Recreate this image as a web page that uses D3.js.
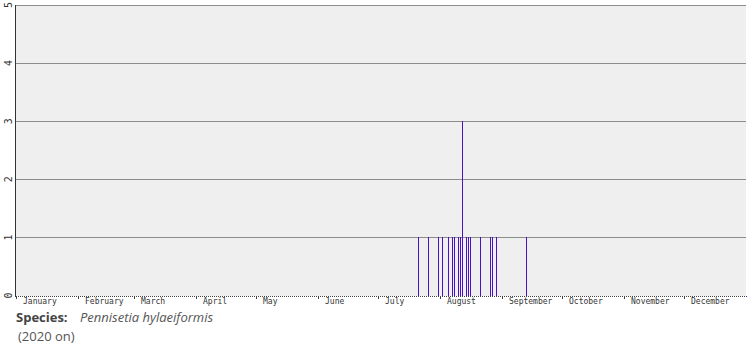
<!DOCTYPE html>
<html>
<head>
<meta charset="utf-8">
<script src="https://cdn.jsdelivr.net/npm/d3@7"></script>
<style>
  html, body { margin: 0; padding: 0; background: #ffffff; }
  svg { display: block; }
</style>
</head>
<body>
<svg id="chart" width="755" height="350"></svg>
<script>
// ---- data ----
const monthNames = ["January","February","March","April","May","June","July","August","September","October","November","December"];
const monthDays = [31,28,31,30,31,30,31,31,30,31,30,31];
const yTicks = [0,1,2,3,4,5];
// observation dates (month, day) and counts
const obsDates = ["07-21","07-26","07-31","08-02","08-05","08-07","08-08","08-10","08-11","08-12","08-14","08-15","08-16","08-21","08-26","08-27","08-29","09-13"];
const obsCounts = [1,1,1,1,1,1,1,1,1,3,1,1,1,1,1,1,1,1];
const speciesName = "Pennisetia hylaeiformis";
const subtitle = "(2020 on)";

(function () {
// ---- layout ----
const svg = d3.select("#chart");
const pLeft = 16, pRight = 746, pTop = 5, pBottom = 295.5;

const x = d3.scaleLinear().domain([0, 365]).range([pLeft, pRight]);
const y = d3.scaleLinear().domain([0, 5]).range([pBottom, pTop]);

const monthStarts = d3.cumsum([0, ...monthDays.slice(0, 11)]);
function doy(s) {
  const [m, d] = s.split("-").map(Number);
  return monthStarts[m - 1] + d - 1;
}

// background
svg.append("rect")
  .attr("x", pLeft).attr("y", pTop)
  .attr("width", pRight - pLeft).attr("height", 296 - pTop)
  .attr("fill", "#efefef");

// gridlines
svg.append("g").selectAll("line")
  .data(yTicks.filter(v => v > 0))
  .join("line")
  .attr("x1", pLeft).attr("x2", pRight)
  .attr("y1", d => Math.floor(y(d)) + 0.5)
  .attr("y2", d => Math.floor(y(d)) + 0.5)
  .attr("stroke", "#8c8c8c").attr("stroke-width", 1);

// y axis line
svg.append("line")
  .attr("x1", 15.5).attr("x2", 15.5)
  .attr("y1", pTop).attr("y2", 297)
  .attr("stroke", "#333").attr("stroke-width", 1);

// y labels (rotated)
svg.append("g").selectAll("text")
  .data(yTicks)
  .join("text")
  .attr("transform", d => `translate(8,${y(d)}) rotate(-90)`)
  .attr("text-anchor", "middle")
  .attr("dominant-baseline", "central")
  .attr("font-family", "DejaVu Sans Mono, monospace")
  .attr("font-size", 10)
  .attr("fill", "#333")
  .text(d => d);

// daily dotted ticks
svg.append("g").selectAll("rect")
  .data(d3.range(0, 365))
  .join("rect")
  .attr("x", d => x(d))
  .attr("y", 296)
  .attr("width", 1).attr("height", 1)
  .attr("fill", "#444");

// month ticks
svg.append("g").selectAll("line")
  .data(monthStarts)
  .join("line")
  .attr("x1", d => x(d) + 0.5).attr("x2", d => x(d) + 0.5)
  .attr("y1", 296).attr("y2", 299)
  .attr("stroke", "#444").attr("stroke-width", 1);

// month labels
svg.append("g").selectAll("text")
  .data(monthNames)
  .join("text")
  .attr("x", (d, i) => x(monthStarts[i]) + 7)
  .attr("y", 304)
  .attr("font-family", "DejaVu Sans Mono, monospace")
  .attr("font-size", 8)
  .attr("fill", "#333")
  .text(d => d);

// bars
const obs = obsDates.map((d, i) => ({ day: doy(d), count: obsCounts[i] }));
svg.append("g").selectAll("line")
  .data(obs)
  .join("line")
  .attr("x1", d => x(d.day) + 0.5).attr("x2", d => x(d.day) + 0.5)
  .attr("y1", 296)
  .attr("y2", d => Math.floor(y(d.count)))
  .attr("stroke", "#4a12c4").attr("stroke-width", 1);

// right end marker
svg.append("line")
  .attr("x1", pRight).attr("x2", pRight + 1)
  .attr("y1", 296.5).attr("y2", 296.5)
  .attr("stroke", "#4a12c4");

// caption
const cap = svg.append("text")
  .attr("x", 16).attr("y", 322)
  .attr("font-family", "Open Sans, sans-serif")
  .attr("font-size", 13)
  .attr("fill", "#444");
cap.append("tspan").attr("font-weight", "bold").text("Species:");
cap.append("tspan").attr("x", 80).attr("font-style", "italic").attr("fill", "#555").text(speciesName);

svg.append("text")
  .attr("x", 18).attr("y", 341)
  .attr("font-family", "Open Sans, sans-serif")
  .attr("font-size", 13)
  .attr("fill", "#555")
  .text(subtitle);
})();
</script>
</body>
</html>
